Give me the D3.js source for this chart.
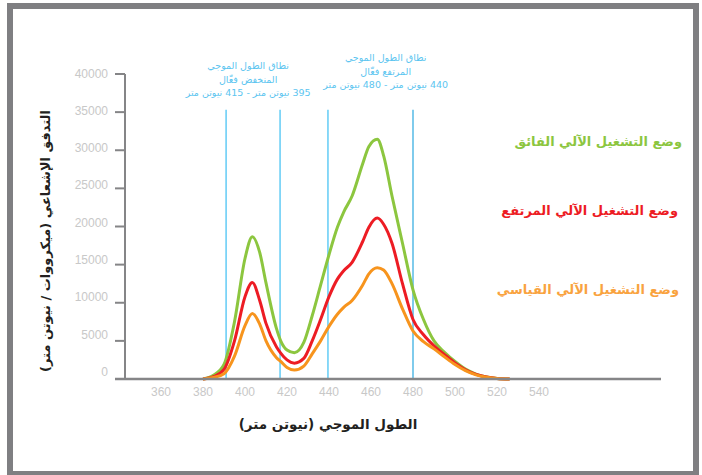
<!DOCTYPE html>
<meta charset="utf-8">
<html>
<head>
<script src="https://d3js.org/d3.v7.min.js"></script>
<style>
  body { margin: 0; background: #fff; }
  svg { display: block; }
  .tick-label { font-family: "Liberation Sans", Arial, sans-serif; font-size: 12px; fill: #c8c8c8; }
  .ar { font-family: "DejaVu Sans", sans-serif; }
</style>
</head>
<body>
<svg width="702" height="475"></svg>
<script>

// wavelength samples (nm) and the three spectra (microwatt / nm)
var wavelengths = [380, 385, 390, 395, 400, 403.5, 407, 410, 415, 417, 420, 423.5, 428, 432, 436, 440, 444, 447, 451, 456, 459, 463, 466, 470, 475, 480, 485, 490, 495, 500, 505, 510, 515, 520, 526];
var turbo    = [0, 500, 1900, 7500, 15800, 18650, 16600, 12600, 6600, 5000, 3800, 3450, 4800, 8300, 12300, 16300, 19900, 21900, 24000, 28200, 30500, 31450, 29300, 24000, 17800, 11700, 7800, 5000, 3500, 2300, 1300, 650, 280, 80, 0];
var high     = [0, 300, 1250, 5000, 10800, 12650, 10300, 7300, 4200, 3400, 2500, 2080, 2700, 5000, 7800, 10800, 13100, 14200, 15300, 18000, 19900, 21100, 20300, 17800, 12500, 7800, 5800, 4350, 3200, 2100, 1200, 600, 250, 70, 0];
var standard = [0, 200, 700, 3000, 7000, 8600, 7200, 5000, 2800, 2300, 1500, 1180, 1700, 3300, 5000, 6900, 8500, 9400, 10300, 12300, 13800, 14600, 14300, 12500, 9200, 6300, 4900, 3950, 2900, 1900, 1100, 550, 230, 60, 0];

var seriesNames  = ["وضع التشغيل الآلي الفائق", "وضع التشغيل الآلي المرتفع", "وضع التشغيل الآلي القياسي"];
var seriesColors = ["#8cc63f", "#ed1c24", "#f7941d"];
var labelColors  = ["#8cc63f", "#ed1c24", "#f9a33f"];

var xTicks = [360, 380, 400, 420, 440, 460, 480, 500, 520, 540];
var yTicks = [0, 5000, 10000, 15000, 20000, 25000, 30000, 35000, 40000];

// band marker lines (nm, as drawn) and their notes
var bandLines = [391, 416.7, 439.5, 480];
var bandNotes = [
  ["نطاق الطول الموجي", "المنخفض فعّال", "395 نيوتن متر - 415 نيوتن متر"],
  ["نطاق الطول الموجي", "المرتفع فعّال", "440 نيوتن متر - 480 نيوتن متر"]
];

var svg = d3.select("svg");

// grey frame
svg.append("rect").attr("x", 7).attr("y", 3).attr("width", 692).attr("height", 475).attr("fill", "#7f7f82");
svg.append("rect").attr("x", 13).attr("y", 9).attr("width", 680).attr("height", 462).attr("fill", "#fff");

var x = d3.scaleLinear().domain([360, 540]).range([161, 539]);
var y = d3.scaleLinear().domain([0, 40000]).range([379, 74]);
var yLabel = d3.scaleLinear().domain([0, 40000]).range([376, 77.5]);

// band lines
svg.append("g")
  .selectAll("line")
  .data(bandLines)
  .enter().append("line")
    .attr("x1", function(d) { return x(d); })
    .attr("x2", function(d) { return x(d); })
    .attr("y1", y(35300))
    .attr("y2", y(0))
    .attr("stroke", function(d, i) { return i === 3 ? "#2aa8df" : "#6dcff6"; })
    .attr("stroke-width", function(d, i) { return i === 3 ? 1.2 : 1.6; });

// band notes
var noteX = [401.5, 467];
var noteY = [69, 61];
bandNotes.forEach(function(lines, k) {
  svg.append("text")
    .attr("class", "ar")
    .attr("direction", "rtl")
    .attr("text-anchor", "middle")
    .attr("font-size", 9.5)
    .attr("fill", "#5cc5f0")
    .selectAll("tspan")
    .data(lines)
    .enter().append("tspan")
      .attr("x", x(noteX[k]))
      .attr("y", function(d, i) { return noteY[k] + i * 13.5; })
      .text(function(d) { return d; });
});

// spectra
var line = d3.line()
  .x(function(d) { return x(d[0]); })
  .y(function(d) { return y(d[1]); })
  .curve(d3.curveMonotoneX);

[turbo, high, standard].forEach(function(vals, k) {
  svg.append("path")
    .datum(wavelengths.map(function(w, i) { return [w, vals[i]]; }))
    .attr("fill", "none")
    .attr("stroke", seriesColors[k])
    .attr("stroke-width", 3)
    .attr("stroke-linejoin", "round")
    .attr("d", line);
});

// axes
svg.append("line")
  .attr("x1", 115).attr("x2", 661)
  .attr("y1", y(0)).attr("y2", y(0))
  .attr("stroke", "#858587").attr("stroke-width", 2.5);

svg.append("line")
  .attr("x1", 125).attr("x2", 125)
  .attr("y1", y(40000)).attr("y2", y(0))
  .attr("stroke", "#858587").attr("stroke-width", 2);

svg.append("g")
  .selectAll("line")
  .data(yTicks)
  .enter().append("line")
    .attr("x1", 115).attr("x2", 125)
    .attr("y1", function(d) { return y(d); })
    .attr("y2", function(d) { return y(d); })
    .attr("stroke", "#858587").attr("stroke-width", 2);

svg.append("g")
  .selectAll("text")
  .data(yTicks)
  .enter().append("text")
    .attr("class", "tick-label")
    .attr("text-anchor", "end")
    .attr("x", 108)
    .attr("y", function(d) { return yLabel(d); })
    .text(function(d) { return d; });

svg.append("g")
  .selectAll("text")
  .data(xTicks)
  .enter().append("text")
    .attr("class", "tick-label")
    .attr("text-anchor", "middle")
    .attr("x", function(d) { return x(d); })
    .attr("y", 396)
    .text(function(d) { return d; });

// axis titles
svg.append("text")
  .attr("class", "ar")
  .attr("direction", "rtl")
  .attr("text-anchor", "middle")
  .attr("font-size", 13.5)
  .attr("font-weight", "bold")
  .attr("fill", "#231f20")
  .attr("x", 328).attr("y", 429)
  .text("الطول الموجي (نيوتن متر)");

svg.append("text")
  .attr("class", "ar")
  .attr("direction", "rtl")
  .attr("text-anchor", "middle")
  .attr("font-size", 13)
  .attr("font-weight", "bold")
  .attr("fill", "#231f20")
  .attr("transform", "translate(50,241) rotate(-90)")
  .text("التدفق الإشعاعي (ميكرووات / نيوتن متر)");

// series labels
var labelY = [146, 215, 294];
svg.append("g")
  .selectAll("text")
  .data(seriesNames)
  .enter().append("text")
    .attr("class", "ar")
    .attr("text-anchor", "end")
    .attr("font-size", 13)
    .attr("font-weight", "bold")
    .attr("fill", function(d, i) { return labelColors[i]; })
    .attr("x", function(d, i) { return [682, 678, 679][i]; })
    .attr("y", function(d, i) { return labelY[i]; })
    .text(function(d) { return d; });

</script>
</body>
</html>
